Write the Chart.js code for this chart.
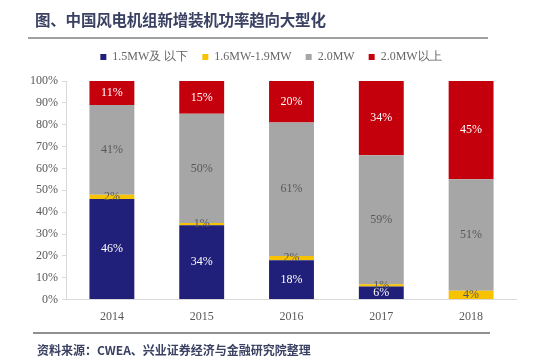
<!DOCTYPE html>
<html>
<head>
<meta charset="utf-8">
<script src="https://cdn.jsdelivr.net/npm/chart.js@4/dist/chart.umd.min.js"></script>
<style>
  html, body { margin: 0; padding: 0; background: #fff; }
  #wrap { position: relative; width: 540px; height: 362px; overflow: hidden; }
  #title { position: absolute; left: 35px; top: 8px; font-family: "Noto Sans CJK SC", sans-serif; font-size: 15.5px; font-weight: 700; color: #3b4163; white-space: nowrap; letter-spacing: -0.2px; }
  #rule1 { position: absolute; left: 28px; top: 37px; width: 460px; height: 2px; background: #a0a0a0; }
  #rule2 { position: absolute; left: 33px; top: 332px; width: 457px; height: 2px; background: #909090; }
  #source { position: absolute; left: 37px; top: 341px; font-family: "Noto Sans CJK SC", sans-serif; font-size: 12px; font-weight: 700; color: #3b4163; white-space: nowrap; }
  #c { position: absolute; left: 0; top: 0; }
</style>
</head>
<body>
<div id="wrap">
  <canvas id="c" width="540" height="362"></canvas>
  <div id="title">图、中国风电机组新增装机功率趋向大型化</div>
  <div id="rule1"></div>
  <div id="rule2"></div>
  <div id="source">资料来源：CWEA、兴业证券经济与金融研究院整理</div>
</div>
<script>
const categories = ["2014", "2015", "2016", "2017", "2018"];
const seriesNames = ["1.5MW及 以下", "1.6MW-1.9MW", "2.0MW", "2.0MW以上"];
const below15 = [46, 34, 18, 6, 0];
const mw16to19 = [2, 1, 2, 1, 4];
const mw20 = [41, 50, 61, 59, 51];
const above20 = [11, 15, 20, 34, 45];
const yTicks = [0, 10, 20, 30, 40, 50, 60, 70, 80, 90, 100];

const colors = ["#20207a", "#f7c200", "#a6a6a6", "#c5000d"];
const labelColors = ["#ffffff", "#595959", "#595959", "#ffffff"];

const labelPlugin = {
  id: "segLabels",
  afterDatasetsDraw(chart) {
    const ctx = chart.ctx;
    ctx.save();
    ctx.font = '12px "Liberation Serif", serif';
    ctx.textAlign = "center";
    ctx.textBaseline = "middle";
    chart.data.datasets.forEach((ds, di) => {
      const meta = chart.getDatasetMeta(di);
      meta.data.forEach((el, i) => {
        const v = ds.data[i];
        if (!v) return;
        const top = Math.max(el.y, chart.chartArea.top);
        const cy = (top + el.base) / 2;
        ctx.fillStyle = ds.labelColor;
        ctx.fillText(v + "%", el.x, cy);
      });
    });
    ctx.restore();
  }
};

const legendGap = {
  id: "legendGap",
  beforeInit(chart) {
    const orig = chart.legend.fit;
    chart.legend.fit = function () {
      orig.call(this);
      this.height += 8;
    };
  }
};

const seriesData = [below15, mw16to19, mw20, above20];

new Chart(document.getElementById("c"), {
  type: "bar",
  data: {
    labels: categories,
    datasets: seriesData.map((d, i) => ({
      label: seriesNames[i],
      data: d,
      backgroundColor: colors[i],
      labelColor: labelColors[i],
      borderWidth: 0,
      categoryPercentage: 1.0,
      barPercentage: 0.5
    }))
  },
  options: {
    responsive: false,
    animation: false,
    devicePixelRatio: 1,
    layout: { padding: { top: 37, left: 26, right: 24, bottom: 36 } },
    plugins: {
      legend: {
        position: "top",
        labels: {
          boxWidth: 6,
          boxHeight: 6,
          padding: 14,
          color: "#666666",
          font: { family: '"Liberation Serif", serif', size: 12 }
        }
      },
      tooltip: { enabled: false }
    },
    scales: {
      x: {
        stacked: true,
        grid: { display: false },
        border: { color: "#d9d9d9" },
        ticks: { color: "#595959", font: { family: '"Liberation Serif", serif', size: 12 }, padding: 2 }
      },
      y: {
        stacked: true,
        min: 0,
        max: 100,
        afterBuildTicks(axis) { axis.ticks = yTicks.map(v => ({ value: v })); },
        grid: { drawOnChartArea: false, drawTicks: true, tickLength: 5, color: "#d9d9d9" },
        border: { color: "#d9d9d9" },
        ticks: {
          color: "#595959",
          padding: 4,
          font: { family: '"Liberation Serif", serif', size: 12 },
          callback: v => v + "%"
        }
      }
    }
  },
  plugins: [labelPlugin, legendGap]
});
</script>
</body>
</html>
